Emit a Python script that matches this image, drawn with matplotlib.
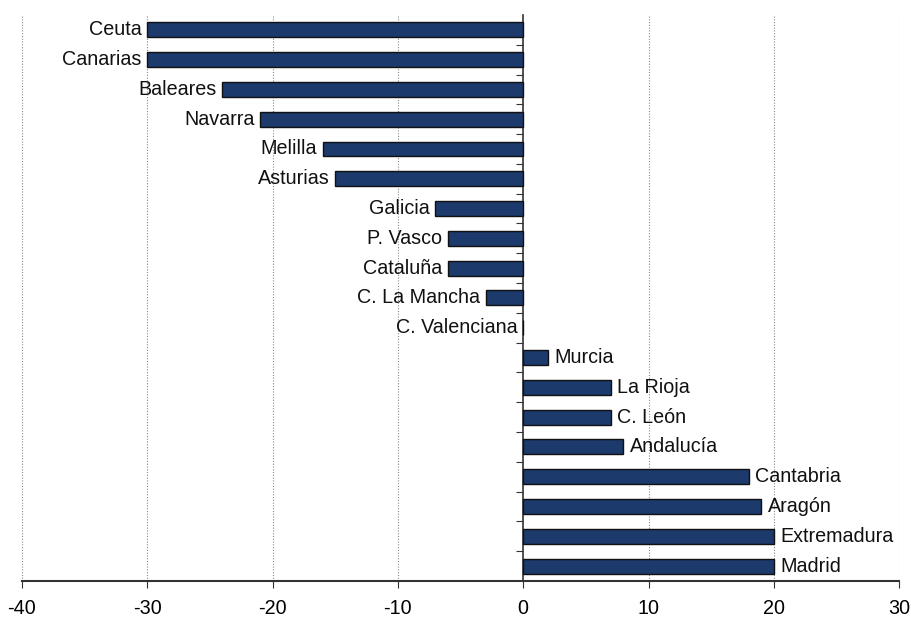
import matplotlib.pyplot as plt

plt.rcParams['font.family'] = ['Liberation Sans', 'DejaVu Sans']

# Data
regions = ['Ceuta', 'Canarias', 'Baleares', 'Navarra', 'Melilla', 'Asturias',
           'Galicia', 'P. Vasco', 'Cataluña', 'C. La Mancha', 'C. Valenciana',
           'Murcia', 'La Rioja', 'C. León', 'Andalucía', 'Cantabria', 'Aragón',
           'Extremadura', 'Madrid']
values = [-30, -30, -24, -21, -16, -15, -7, -6, -6, -3, 0,
          2, 7, 7, 8, 18, 19, 20, 20]
x_ticks = [-40, -30, -20, -10, 0, 10, 20, 30]

fig = plt.figure(figsize=(9.11, 6.22), dpi=100)
ax = fig.add_axes([0.024, 0.066, 0.963, 0.91])

pos = list(range(len(regions)))
ax.barh(pos, values, height=0.5, color='#1c3a6b', edgecolor='#111111',
        linewidth=1.0, zorder=3)

# labels next to the bar ends
for y, v, name in zip(pos, values, regions):
    if v <= 0:
        ax.text(v - 0.45, y, name, ha='right', va='center', fontsize=14.2,
                color='#111111', zorder=4)
    else:
        ax.text(v + 0.5, y, name, ha='left', va='center', fontsize=14.2,
                color='#111111', zorder=4)

ax.set_xlim(-40, 30)
ax.set_ylim(len(regions) - 0.5, -0.5)
ax.set_xticks(x_ticks)
ax.set_xticklabels([str(t) for t in x_ticks], fontsize=14.2)

# vertical dotted grid
for t in x_ticks:
    if t != 0:
        ax.axvline(t, color='#888888', linestyle=(0, (1, 1.5)), linewidth=0.8,
                   zorder=1)

# y axis sits at zero, ticks between categories
ax.spines['left'].set_position(('data', 0))
ax.spines['right'].set_visible(False)
ax.spines['top'].set_visible(False)
ax.spines['left'].set_color('#333333')
ax.spines['bottom'].set_color('#333333')
ax.spines['left'].set_linewidth(1.2)
ax.spines['bottom'].set_linewidth(1.5)
ax.set_yticks([p + 0.5 for p in pos[:-1]])
ax.set_yticklabels([])
ax.tick_params(axis='y', direction='out', length=5, color='#333333')
ax.tick_params(axis='x', direction='out', length=5, color='#333333', pad=8)

fig.savefig('out.png', dpi=100)
